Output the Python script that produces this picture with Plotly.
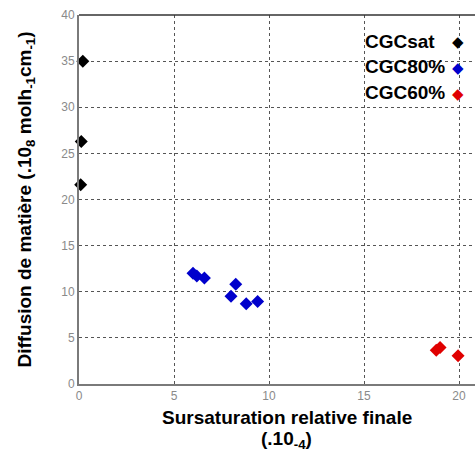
import plotly.graph_objects as go

# Data
sat_x = [0.2, 0.12, 0.09]
sat_y = [35.0, 26.3, 21.6]
c80_x = [6.0, 6.2, 6.6, 8.25, 8.0, 8.8, 9.4]
c80_y = [12.0, 11.7, 11.5, 10.8, 9.5, 8.7, 8.95]
c60_x = [18.8, 19.0, 19.95]
c60_y = [3.65, 3.95, 3.05]

series = [
    ("CGCsat", sat_x, sat_y, "#000000"),
    ("CGC80%", c80_x, c80_y, "#0000CC"),
    ("CGC60%", c60_x, c60_y, "#E00000"),
]

x_ticks = [0, 5, 10, 15, 20]
y_ticks = [0, 5, 10, 15, 20, 25, 30, 35, 40]

FONT = "Liberation Sans, Arial, sans-serif"

fig = go.Figure()
for name, xs, ys, col in series:
    fig.add_trace(go.Scatter(
        x=xs, y=ys, mode="markers", name=name,
        marker=dict(symbol="diamond", size=10, color=col),
        cliponaxis=False, showlegend=False,
    ))

# legend drawn as text annotations (text left of the symbol, as in the reference)
legend_y = [0.9295, 0.860, 0.791]
for (name, xs, ys, col), yy in zip(series, legend_y):
    fig.add_annotation(xref="paper", yref="paper", x=0.717, y=yy, xanchor="left",
                       yanchor="middle", text="<b>" + name + "</b>", showarrow=False,
                       font=dict(family=FONT, size=19, color="#000000"))
    fig.add_annotation(xref="paper", yref="paper", x=0.957, y=yy - 0.004, xanchor="center",
                       yanchor="middle", text="◆", showarrow=False,
                       font=dict(family="DejaVu Sans", size=15, color=col))

# x-axis title in two lines (placed slightly right of the plot centre, as in the reference)
fig.add_annotation(xref="paper", yref="paper", x=0.525, y=-0.091, xanchor="center",
                   yanchor="middle", showarrow=False, borderpad=0,
                   text="<b>Sursaturation relative finale</b>",
                   font=dict(family=FONT, size=19, color="#000000"))
fig.add_annotation(xref="paper", yref="paper", x=0.525, y=-0.188, xanchor="center",
                   yanchor="bottom", showarrow=False, borderpad=0,
                   text="<b>(.10<sub>-4</sub>)</b>",
                   font=dict(family=FONT, size=19, color="#000000"))

fig.update_layout(
    width=475, height=453,
    margin=dict(l=79, r=0, t=15, b=69),
    paper_bgcolor="white", plot_bgcolor="white",
    font=dict(family=FONT, color="#888888"),
    xaxis=dict(
        range=[0, 20.84], tickvals=x_ticks, ticktext=[str(v) for v in x_ticks],
        showgrid=True, gridcolor="#555555", griddash="dot", gridwidth=1,
        showline=True, linecolor="#7a7a7a", linewidth=2, mirror=False,
        zeroline=False, ticks="", tickfont=dict(size=12, color="#8a8a8a"),
    ),
    yaxis=dict(
        range=[0, 40], tickvals=y_ticks, ticktext=[str(v) for v in y_ticks],
        showgrid=True, gridcolor="#555555", griddash="dot", gridwidth=1,
        showline=True, linecolor="#7a7a7a", linewidth=2,
        zeroline=False, ticks="", tickfont=dict(size=12, color="#8a8a8a"),
        title=dict(text="<b>Diffusion de matière (.10<sub>8</sub> molh<sub>-1</sub>cm<sub>-1</sub>)</b>",
                   font=dict(family=FONT, size=19, color="#000000"), standoff=25),
    ),
    shapes=[dict(type="line", xref="paper", yref="paper", x0=0, x1=1, y0=1, y1=1,
                 line=dict(color="#333333", width=1.5))],
)

fig.write_html("out.html", config={"displayModeBar": False},
               post_script="document.body.style.margin='0';")
